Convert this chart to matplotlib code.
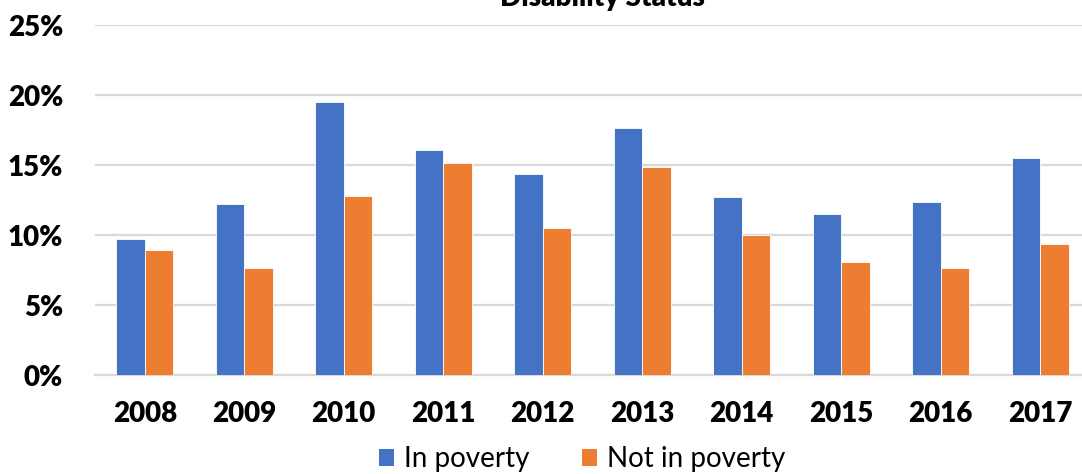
import matplotlib
matplotlib.use("Agg")
import matplotlib.pyplot as plt
import numpy as np
from matplotlib.patches import Patch

years = ["2008", "2009", "2010", "2011", "2012", "2013", "2014", "2015", "2016", "2017"]
in_poverty = [9.74, 12.19, 19.52, 16.07, 14.36, 17.62, 12.69, 11.52, 12.34, 15.50]
not_in_poverty = [8.93, 7.62, 12.81, 15.17, 10.48, 14.86, 9.98, 8.05, 7.67, 9.36]
y_ticks = [0, 5, 10, 15, 20, 25]
y_tick_labels = ["0%", "5%", "10%", "15%", "20%", "25%"]

BLUE = "#4472C4"
ORANGE = "#ED7D31"
GRID = "#D9D9D9"

plt.rcParams["font.family"] = ["Lato", "DejaVu Sans"]

W, H = 1082, 474
fig = plt.figure(figsize=(W / 100, H / 100), dpi=100)
ax = fig.add_axes([95 / W, 99 / H, 995 / W, 350 / H])

x = np.arange(len(years))
bw = 0.285
ax.bar(x - bw / 2, in_poverty, bw, color=BLUE, edgecolor="white", linewidth=0.6, zorder=3)
ax.bar(x + bw / 2, not_in_poverty, bw, color=ORANGE, edgecolor="white", linewidth=0.6, zorder=3)

ax.set_xlim(-0.5, len(years) - 0.5)
ax.set_ylim(0, 25)
ax.set_yticks(y_ticks)
ax.set_yticklabels(y_tick_labels, fontsize=20, fontweight="heavy")
ax.set_xticks(x)
ax.set_xticklabels(years, fontsize=20, fontweight="heavy")
ax.tick_params(axis="both", length=0)
ax.tick_params(axis="y", pad=23)
ax.tick_params(axis="x", pad=19)

ax.grid(axis="y", color=GRID, linewidth=1.6, zorder=0)
ax.set_axisbelow(True)
for side in ("top", "right", "left"):
    ax.spines[side].set_visible(False)
ax.spines["bottom"].set_color(GRID)
ax.spines["bottom"].set_linewidth(1.6)

fig.text(602 / W, 1 - 6 / H, "Disability Status", ha="center", va="baseline",
         fontsize=20, fontweight="heavy")

handles = [Patch(facecolor=BLUE, label="In poverty"),
           Patch(facecolor=ORANGE, label="Not in poverty")]
fig.legend(handles=handles, loc="center", bbox_to_anchor=(582 / W, 1 - 459 / H),
           ncol=2, frameon=False, fontsize=20, handlelength=0.55, handleheight=0.55,
           handletextpad=0.35, columnspacing=1.9)

fig.savefig("out.png", dpi=100)
